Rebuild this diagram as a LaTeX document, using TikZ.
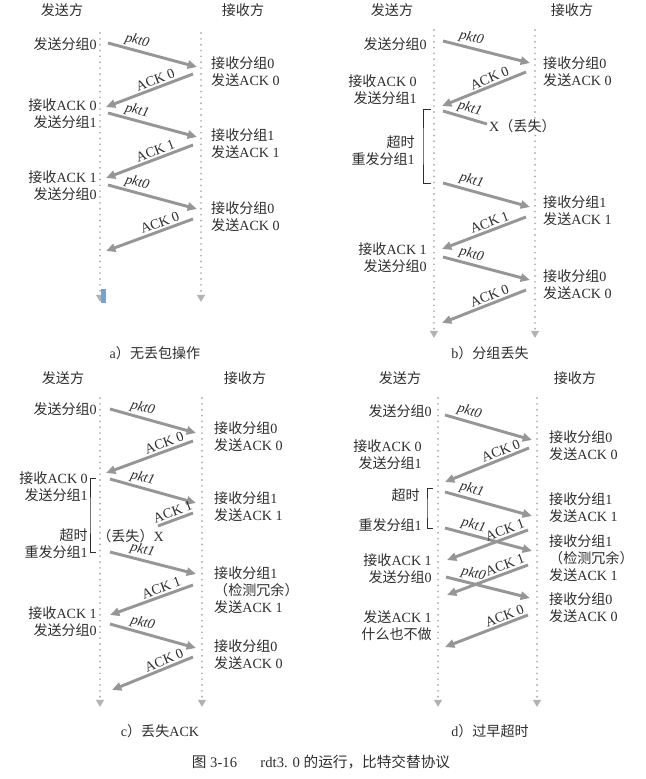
\documentclass[tikz,border=0pt]{standalone}
\usepackage{fontspec}
\setmainfont{Liberation Serif}
\newfontfamily\cjk{Noto Sans CJK SC}
\usetikzlibrary{arrows.meta}

\definecolor{msggray}{RGB}{150,150,150}
\definecolor{dotgray}{RGB}{178,178,178}
\definecolor{textgray}{RGB}{45,45,45}
\definecolor{markblue}{RGB}{110,165,215}

\newcommand{\zh}[1]{{\cjk #1}}

\tikzset{
  txt/.style={text=textgray, font=\fontsize{12}{14.5}\selectfont, inner sep=0pt},
  sndtxt/.style={txt, anchor=east, align=right},
  rcvtxt/.style={txt, anchor=west, align=left},
  headtxt/.style={txt},
  captxt/.style={txt},
  msg/.style={draw=msggray, line width=2.5pt, -{Triangle[length=8pt,width=7pt]}},
  lost/.style={draw=msggray, line width=2.5pt},
  timeline/.style={draw=dotgray, line width=1.8pt, dash pattern=on 0pt off 5pt,
    line cap=round, -{Triangle[length=6pt,width=6.5pt]}},
  tag/.style={sloped, above, inner sep=1.5pt, text=textgray,
    font=\fontsize{12}{14}\selectfont},
  timer/.style={draw=textgray, line width=0.6pt}
}

\begin{document}
\begin{tikzpicture}[x=0.03cm, y=-0.03cm]
  \useasboundingbox (0,0) rectangle (646,779);

  % Column headers and the two dotted time lines of each panel.
  \foreach \p/\xs/\xr/\hs/\hr/\hy/\top/\bot in {a/100/201/62/243/10/33/302,
      b/434/535/392/572/10/30/338, c/100/202/63/245/378/398/707,
      d/438/537/400/575/378/398/707} {
    \node[headtxt] (\p-snd) at (\hs,\hy) {\zh{发送方}};
    \node[headtxt] (\p-rcv) at (\hr,\hy) {\zh{接收方}};
    \coordinate (\p-snd-top) at (\xs,\top);
    \coordinate (\p-snd-bot) at (\xs,\bot);
    \coordinate (\p-rcv-top) at (\xr,\top);
    \coordinate (\p-rcv-bot) at (\xr,\bot);
    \draw[timeline] (\p-snd-top) -- (\p-snd-bot);
    \draw[timeline] (\p-rcv-top) -- (\p-rcv-bot);
  }

  % a) no loss
  \foreach \n/\s/\xa/\ya/\xb/\yb/\q/\t in {1/msg/108/43/197/67/.3/\textit{pkt0},
      2/msg/193/74/106/107/.4/ACK 0, 3/msg/108/113/197/137/.3/\textit{pkt1},
      4/msg/193/145/106/178/.4/ACK 1, 5/msg/108/185/197/209/.3/\textit{pkt0},
      6/msg/193/219/106/251/.35/ACK 0} {
    \coordinate (a\n-from) at (\xa,\ya);
    \coordinate (a\n-to) at (\xb,\yb);
    \draw[\s] (a\n-from) -- (a\n-to) node[tag, pos=\q] {\t};
  }
  \node[sndtxt] (a-s1) at (97,44) {\zh{发送分组}0};
  \node[sndtxt] (a-s2) at (97,114) {\zh{接收}ACK 0\\\zh{发送分组}1};
  \node[sndtxt] (a-s3) at (97,186) {\zh{接收}ACK 1\\\zh{发送分组}0};
  \node[rcvtxt] (a-r1) at (211,72) {\zh{接收分组}0\\\zh{发送}ACK 0};
  \node[rcvtxt] (a-r2) at (211,144) {\zh{接收分组}1\\\zh{发送}ACK 1};
  \node[rcvtxt] (a-r3) at (211,217) {\zh{接收分组}0\\\zh{发送}ACK 0};
  \fill[markblue] (101,289) rectangle (106,303);
  \node[captxt] (a-cap) at (155,353) {a\zh{）无丢包操作}};

  % b) packet loss
  \foreach \n/\s/\xa/\ya/\xb/\yb/\q/\t in {1/msg/443/41/530/63/.3/\textit{pkt0},
      2/msg/526/72/442/106/.4/ACK 0, 3/lost/443/111/487/124/.55/\textit{pkt1},
      4/msg/443/183/530/207/.3/\textit{pkt1}, 5/msg/526/217/442/249/.4/ACK 1,
      6/msg/443/257/530/280/.3/\textit{pkt0}, 7/msg/526/290/442/323/.4/ACK 0} {
    \coordinate (b\n-from) at (\xa,\ya);
    \coordinate (b\n-to) at (\xb,\yb);
    \draw[\s] (b\n-from) -- (b\n-to) node[tag, pos=\q] {\t};
  }
  \node[txt, anchor=west] (b-loss) at (489,126) {X\zh{（丢失）}};
  \node[sndtxt] (b-s1) at (427,44) {\zh{发送分组}0};
  \node[sndtxt] (b-s2) at (417,90) {\zh{接收}ACK 0\\\zh{发送分组}1};
  \node[sndtxt] (b-s3) at (415,151) {\zh{超时}\\\zh{重发分组}1};
  \node[sndtxt] (b-s4) at (427,258) {\zh{接收}ACK 1\\\zh{发送分组}0};
  \node[rcvtxt] (b-r1) at (543,72) {\zh{接收分组}0\\\zh{发送}ACK 0};
  \node[rcvtxt] (b-r2) at (543,211) {\zh{接收分组}1\\\zh{发送}ACK 1};
  \node[rcvtxt] (b-r3) at (543,285) {\zh{接收分组}0\\\zh{发送}ACK 0};
  % timeout bracket
  \coordinate (b-t1) at (431,109);
  \coordinate (b-t2) at (431,183);
  \draw[timer] (b-t1) -| (423,146) |- (b-t2);
  \node[captxt] (b-cap) at (490,353) {b\zh{）分组丢失}};

  % c) lost ACK
  \foreach \n/\s/\xa/\ya/\xb/\yb/\q/\t in {1/msg/110/409/196/433/.35/\textit{pkt0},
      2/msg/193/441/106/473/.3/ACK 0, 3/msg/110/479/196/503/.35/\textit{pkt1},
      4/lost/193/513/158/526/.5/ACK 1, 5/msg/110/552/196/574/.35/\textit{pkt1},
      6/msg/193/585/110/615/.35/ACK 1, 7/msg/110/624/196/648/.35/\textit{pkt0},
      8/msg/193/657/112/690/.32/ACK 0} {
    \coordinate (c\n-from) at (\xa,\ya);
    \coordinate (c\n-to) at (\xb,\yb);
    \draw[\s] (c\n-from) -- (c\n-to) node[tag, pos=\q] {\t};
  }
  \node[txt, anchor=east] (c-loss) at (164,536) {\zh{（丢失）}X};
  \node[sndtxt] (c-s1) at (97,409) {\zh{发送分组}0};
  \node[sndtxt] (c-s2) at (88,487) {\zh{接收}ACK 0\\\zh{发送分组}1};
  \node[sndtxt] (c-s3) at (88,544) {\zh{超时}\\\zh{重发分组}1};
  \node[sndtxt] (c-s4) at (97,622) {\zh{接收}ACK 1\\\zh{发送分组}0};
  \node[rcvtxt] (c-r1) at (214,437) {\zh{接收分组}0\\\zh{发送}ACK 0};
  \node[rcvtxt] (c-r2) at (214,507) {\zh{接收分组}1\\\zh{发送}ACK 1};
  \node[rcvtxt] (c-r3) at (214,590) {\zh{接收分组}1\\\zh{（检测冗余）}\\\zh{发送}ACK 1};
  \node[rcvtxt] (c-r4) at (214,655) {\zh{接收分组}0\\\zh{发送}ACK 0};
  % timeout bracket
  \coordinate (c-t1) at (96,478);
  \coordinate (c-t2) at (96,552);
  \draw[timer] (c-t1) -| (90,515) |- (c-t2);
  \node[captxt] (c-cap) at (160,731) {c\zh{）丢失}ACK};

  % d) premature timeout
  \foreach \n/\s/\xa/\ya/\xb/\yb/\q/\t in {1/msg/445/415/532/440/.25/\textit{pkt0},
      2/msg/529/448/445/482/.3/ACK 0, 3/msg/445/492/532/516/.28/\textit{pkt1},
      4/msg/445/528/532/551/.3/\textit{pkt1}, 5/msg/528/530/447/560/.25/ACK 1,
      6/msg/446/577/530/598/.3/\textit{pkt0}, 7/msg/528/565/447/595/.25/ACK 1,
      8/msg/528/615/445/647/.25/ACK 0} {
    \coordinate (d\n-from) at (\xa,\ya);
    \coordinate (d\n-to) at (\xb,\yb);
    \draw[\s] (d\n-from) -- (d\n-to) node[tag, pos=\q] {\t};
  }
  \node[sndtxt] (d-s1) at (432,411) {\zh{发送分组}0};
  \node[sndtxt] (d-s2) at (422,455) {\zh{接收}ACK 0\\\zh{发送分组}1};
  \node[sndtxt] (d-s3) at (420,495) {\zh{超时}};
  \node[sndtxt] (d-s4) at (422,525) {\zh{重发分组}1};
  \node[sndtxt] (d-s5) at (432,569) {\zh{接收}ACK 1\\\zh{发送分组}0};
  \node[sndtxt] (d-s6) at (432,626) {\zh{发送}ACK 1\\\zh{什么也不做}};
  \node[rcvtxt] (d-r1) at (549,446) {\zh{接收分组}0\\\zh{发送}ACK 0};
  \node[rcvtxt] (d-r2) at (549,508) {\zh{接收分组}1\\\zh{发送}ACK 1};
  \node[rcvtxt] (d-r3) at (549,558) {\zh{接收分组}1\\\zh{（检测冗余）}\\\zh{发送}ACK 1};
  \node[rcvtxt] (d-r4) at (549,608) {\zh{接收分组}0\\\zh{发送}ACK 0};
  % timeout bracket
  \coordinate (d-t1) at (433,488);
  \coordinate (d-t2) at (433,528);
  \draw[timer] (d-t1) -| (427,508) |- (d-t2);
  \node[captxt] (d-cap) at (490,731) {d\zh{）过早超时}};

  % figure caption
  \node[captxt, font=\fontsize{12.5}{15}\selectfont] (fig-cap) at (321,762)
    {\zh{图} 3-16\hspace{1.6em}rdt3. 0 \zh{的运行，比特交替协议}};
\end{tikzpicture}
\end{document}
